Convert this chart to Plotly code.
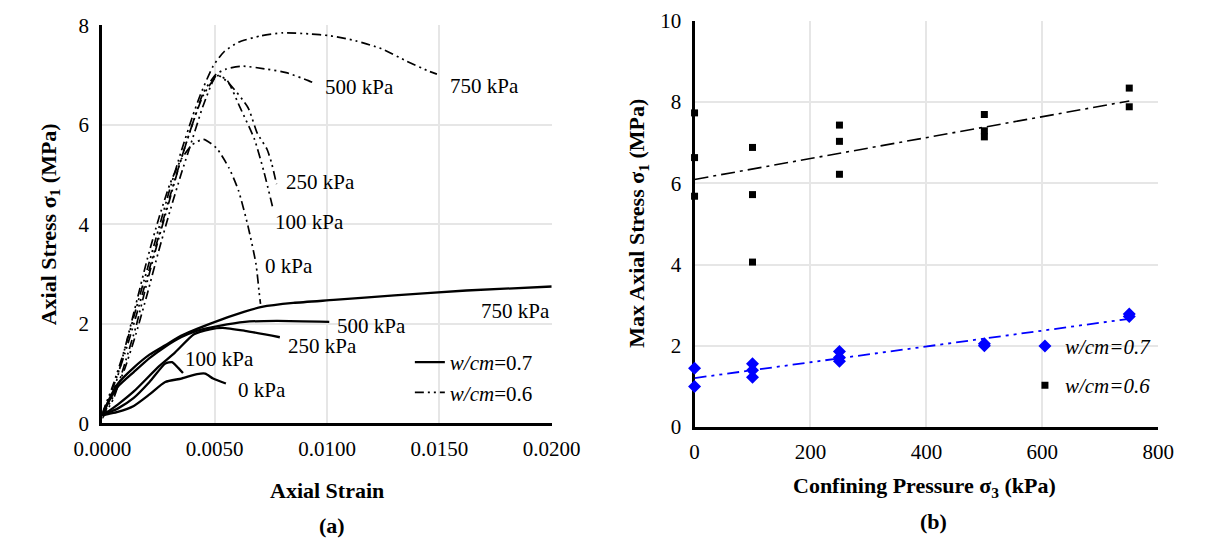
import numpy as np
import plotly.graph_objects as go

FONT = "Liberation Serif"
W, H = 1212, 552

# ---------------- Panel (a) data: axial strain vs axial stress ----------------
# w/cm = 0.7 (solid)
a07_0_strain = [0, 0.0003, 0.00069, 0.0014, 0.0021, 0.0028, 0.00352, 0.00422, 0.00458, 0.00493, 0.0055]
a07_0_stress = [0.16, 0.19, 0.23, 0.35, 0.58, 0.83, 0.90, 0.99, 1.00, 0.90, 0.80]
a07_100_strain = [0, 0.0003, 0.0007, 0.0014, 0.0021, 0.0028, 0.0031, 0.0033, 0.00359]
a07_100_stress = [0.16, 0.22, 0.30, 0.51, 0.83, 1.20, 1.23, 1.15, 1.01]
a07_250_strain = [0, 0.0003, 0.0007, 0.0014, 0.00253, 0.00323, 0.00408, 0.00479, 0.00535, 0.00634, 0.0079]
a07_250_stress = [0.16, 0.25, 0.38, 0.64, 1.15, 1.42, 1.79, 1.89, 1.92, 1.86, 1.73]
a07_500_strain = [0, 0.0003, 0.0007, 0.0014, 0.0021, 0.0028, 0.0035, 0.0042, 0.0052, 0.00634, 0.00775, 0.0101]
a07_500_stress = [0.16, 0.45, 0.74, 1.03, 1.31, 1.54, 1.73, 1.86, 1.96, 2.04, 2.06, 2.04]
a07_750_strain = [0, 0.0003, 0.0007, 0.0014, 0.0021, 0.0028, 0.0035, 0.0049, 0.0063, 0.0071, 0.0085, 0.0103, 0.013, 0.0162, 0.02]
a07_750_stress = [0.16, 0.48, 0.80, 1.12, 1.38, 1.57, 1.76, 2.02, 2.24, 2.34, 2.42, 2.48, 2.57, 2.67, 2.75]

# w/cm = 0.6 (dash-dot-dot)
a06_0_strain = [0, 0.0005, 0.001, 0.0015, 0.002, 0.0025, 0.003, 0.0035, 0.004, 0.0045, 0.00507, 0.00564, 0.00606, 0.00648, 0.00684, 0.00698, 0.00704]
a06_0_stress = [0.15, 0.65, 1.5, 2.4, 3.3, 4.1, 4.8, 5.3, 5.6, 5.71, 5.54, 5.13, 4.68, 3.97, 3.2, 2.63, 2.4]
a06_100_strain = [0, 0.0005, 0.001, 0.0015, 0.002, 0.0025, 0.003, 0.0035, 0.004, 0.0045, 0.00514, 0.00556, 0.00613, 0.00677, 0.00719, 0.00761]
a06_100_stress = [0.10, 0.5, 1.2, 1.95, 2.85, 3.7, 4.5, 5.3, 6.0, 6.6, 6.99, 6.89, 6.35, 5.71, 5.06, 4.29]
a06_250_strain = [0, 0.0005, 0.001, 0.0015, 0.002, 0.0025, 0.003, 0.0035, 0.004, 0.0045, 0.0051, 0.0056, 0.00648, 0.0069, 0.00733, 0.00754, 0.00775]
a06_250_stress = [0.15, 0.55, 1.1, 1.8, 2.6, 3.45, 4.25, 5.0, 5.7, 6.4, 7.0, 6.85, 6.35, 5.83, 5.51, 5.22, 4.81]
a06_500_strain = [0, 0.0005, 0.001, 0.0015, 0.002, 0.0025, 0.003, 0.0035, 0.004, 0.0045, 0.00507, 0.0055, 0.0062, 0.00733, 0.00818, 0.00917, 0.00945]
a06_500_stress = [0.2, 0.75, 1.4, 2.15, 2.95, 3.75, 4.55, 5.3, 6.0, 6.65, 7.02, 7.12, 7.18, 7.12, 7.05, 6.89, 6.83]
a06_750_strain = [0, 0.0005, 0.001, 0.0015, 0.002, 0.0025, 0.003, 0.0035, 0.004, 0.00436, 0.00493, 0.00542, 0.00606, 0.00705, 0.00804, 0.00917, 0.01016, 0.01128, 0.01242, 0.01355, 0.01453, 0.01489]
a06_750_stress = [0.2, 0.8, 1.5, 2.3, 3.1, 3.9, 4.7, 5.45, 6.15, 6.6, 7.18, 7.47, 7.66, 7.79, 7.85, 7.83, 7.79, 7.69, 7.53, 7.28, 7.08, 7.02]

# curve labels (text, strain, stress, anchor) for panel (a)
labels_07 = [("750 kPa", 0.0200, 2.25, "right"), ("500 kPa", 0.01035, 1.96, "left"),
             ("250 kPa", 0.00818, 1.56, "left"), ("100 kPa", 0.00360, 1.29, "left"),
             ("0 kPa", 0.00593, 0.67, "left")]
labels_06 = [("750 kPa", 0.01538, 6.79, "left"), ("500 kPa", 0.0098, 6.77, "left"),
             ("250 kPa", 0.0081, 4.85, "left"), ("100 kPa", 0.00758, 4.05, "left"),
             ("0 kPa", 0.00713, 3.16, "left")]

# ---------------- Panel (b) data: confining pressure vs max axial stress ----------------
b07_pressure = [0, 0, 100, 100, 100, 250, 250, 250, 500, 500, 750, 750]
b07_stress = [1.45, 1.00, 1.56, 1.40, 1.23, 1.86, 1.71, 1.62, 2.05, 2.00, 2.78, 2.72]
b06_pressure = [0, 0, 0, 100, 100, 100, 250, 250, 250, 500, 500, 500, 750, 750]
b06_stress = [7.73, 6.63, 5.68, 6.88, 5.72, 4.06, 7.43, 7.03, 6.22, 7.69, 7.29, 7.14, 8.34, 7.88]
trend_range = [0, 750]

DASH_DDOT = "9px,4px,2px,4px,2px,4px"

fig = go.Figure()

solid = [(a07_0_strain, a07_0_stress), (a07_100_strain, a07_100_stress), (a07_250_strain, a07_250_stress),
         (a07_500_strain, a07_500_stress), (a07_750_strain, a07_750_stress)]
dashed = [(a06_0_strain, a06_0_stress), (a06_100_strain, a06_100_stress), (a06_250_strain, a06_250_stress),
          (a06_500_strain, a06_500_stress), (a06_750_strain, a06_750_stress)]

for i, (xs, ys) in enumerate(solid):
    fig.add_trace(go.Scatter(x=xs, y=ys, mode="lines", line=dict(color="black", width=2.3, shape="spline", smoothing=0.6),
                             name="<i>w/cm</i>=0.7", showlegend=(i == 0), legend="legend",
                             xaxis="x", yaxis="y", hoverinfo="skip"))
for i, (xs, ys) in enumerate(dashed):
    fig.add_trace(go.Scatter(x=xs, y=ys, mode="lines",
                             line=dict(color="black", width=1.7, dash=DASH_DDOT, shape="spline", smoothing=0.6),
                             name="<i>w/cm</i>=0.6", showlegend=(i == 0), legend="legend",
                             xaxis="x", yaxis="y", hoverinfo="skip"))

# Panel (b)
c07 = np.polyfit(b07_pressure, b07_stress, 1)
c06 = np.polyfit(b06_pressure, b06_stress, 1)
tx = np.array(trend_range, dtype=float)
fig.add_trace(go.Scatter(x=tx, y=np.polyval(c07, tx), mode="lines",
                         line=dict(color="#0000ff", width=1.8, dash="12px,5px,3px,5px,3px,5px"),
                         showlegend=False, xaxis="x2", yaxis="y2", hoverinfo="skip"))
fig.add_trace(go.Scatter(x=tx, y=np.polyval(c06, tx), mode="lines",
                         line=dict(color="black", width=1.6, dash="14px,5px,3px,5px"),
                         showlegend=False, xaxis="x2", yaxis="y2", hoverinfo="skip"))
fig.add_trace(go.Scatter(x=b07_pressure, y=b07_stress, mode="markers", cliponaxis=False,
                         marker=dict(symbol="diamond", size=10, color="#0000ff"),
                         name="<i>w/cm=0.7</i>", legend="legend2", legendgroup="g1",
                         xaxis="x2", yaxis="y2"))
fig.add_trace(go.Scatter(x=b06_pressure, y=b06_stress, mode="markers", cliponaxis=False,
                         marker=dict(symbol="square", size=7, color="black"),
                         name="<i>w/cm=0.6</i>", legend="legend2", legendgroup="g2",
                         xaxis="x2", yaxis="y2"))


def px_x(p):
    return p / W


def px_y(p):
    return 1 - p / H


tickfont = dict(family=FONT, size=21, color="black")
grid = "#e6e6e6"

common_x = dict(showgrid=True, gridcolor=grid, gridwidth=2, zeroline=False, showline=True,
                linecolor="black", linewidth=3, tickfont=tickfont, ticks="", ticklabelstandoff=4,
                fixedrange=True, layer="below traces")
common_y = dict(showgrid=True, gridcolor=grid, gridwidth=2, zeroline=False, showline=True,
                linecolor="black", linewidth=3, tickfont=tickfont, ticks="", ticklabelstandoff=6,
                fixedrange=True, layer="below traces")

annotations = []
for txt, sx, sy, anc in labels_07 + labels_06:
    annotations.append(dict(text=txt, x=sx, y=sy, xref="x", yref="y", xanchor=anc, yanchor="middle",
                            showarrow=False, font=dict(family=FONT, size=21, color="black")))

titlefont = dict(family=FONT, size=22, color="black", weight="bold")
annotations += [
    dict(text="Axial Stress σ<sub>1</sub> (MPa)", x=px_x(22), y=px_y(222), xref="paper", yref="paper",
         textangle=-90, showarrow=False, font=titlefont, xanchor="center", yanchor="middle"),
    dict(text="Axial Strain", x=px_x(313), y=px_y(500), xref="paper", yref="paper",
         showarrow=False, font=titlefont, xanchor="center", yanchor="middle"),
    dict(text="(a)", x=px_x(318), y=px_y(537), xref="paper", yref="paper",
         showarrow=False, font=titlefont, xanchor="center", yanchor="middle"),
    dict(text="Max Axial Stress σ<sub>1</sub> (MPa)", x=px_x(640), y=px_y(221), xref="paper", yref="paper",
         textangle=-90, showarrow=False, font=titlefont, xanchor="center", yanchor="middle"),
    dict(text="Confining Pressure σ<sub>3</sub> (kPa)", x=px_x(941), y=px_y(497), xref="paper", yref="paper",
         showarrow=False, font=titlefont, xanchor="center", yanchor="middle"),
    dict(text="(b)", x=px_x(950), y=px_y(533), xref="paper", yref="paper",
         showarrow=False, font=titlefont, xanchor="center", yanchor="middle"),
]

fig.update_layout(
    width=W, height=H,
    margin=dict(l=0, r=0, t=0, b=0),
    paper_bgcolor="white", plot_bgcolor="white",
    font=dict(family=FONT, size=21, color="black"),
    xaxis=dict(domain=[px_x(77), px_x(549)], range=[0, 0.02], dtick=0.005, tickformat=".4f",
               anchor="y", **common_x),
    yaxis=dict(domain=[px_y(430), px_y(14)], range=[0, 8], dtick=2, anchor="x", **common_y),
    xaxis2=dict(domain=[px_x(699), px_x(1186)], range=[0, 800], dtick=200, anchor="y2", **common_x),
    yaxis2=dict(domain=[px_y(434), px_y(9)], range=[0, 10], dtick=2, anchor="x2", **common_y),
    legend=dict(x=px_x(400), y=px_y(345), xanchor="left", yanchor="top", bgcolor="rgba(0,0,0,0)",
                font=dict(family=FONT, size=21, color="black"), tracegroupgap=0, itemwidth=30),
    legend2=dict(x=px_x(1046), y=px_y(328), xanchor="left", yanchor="top", bgcolor="rgba(0,0,0,0)",
                 font=dict(family=FONT, size=21, color="black"), tracegroupgap=9, itemwidth=30),
    annotations=annotations,
    showlegend=True,
)

fig.write_html("out.html")
